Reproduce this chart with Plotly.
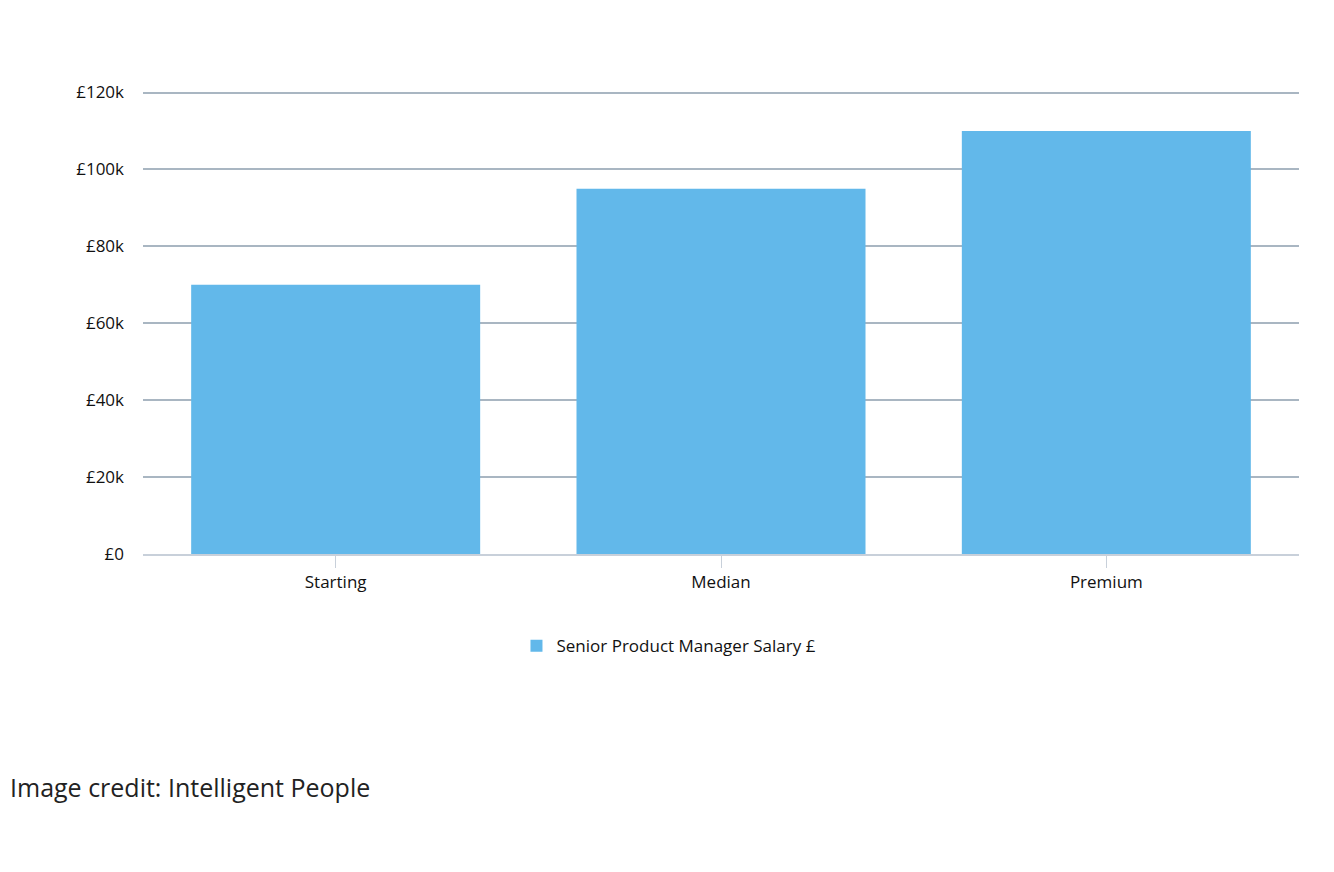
import plotly.graph_objects as go

categories = ["Starting", "Median", "Premium"]
salaries = [70000, 95000, 110000]
tick_vals = [0, 20000, 40000, 60000, 80000, 100000, 120000]
tick_text = ["£0", "£20k", "£40k", "£60k", "£80k", "£100k", "£120k"]

fig = go.Figure()
fig.add_trace(go.Bar(
    x=categories,
    y=salaries,
    name="Senior Product Manager Salary £",
    marker=dict(color="#62b8ea", line=dict(width=0)),
    hoverinfo="x+y",
))

fig.update_layout(
    width=1334,
    height=872,
    paper_bgcolor="white",
    plot_bgcolor="white",
    margin=dict(l=135, r=43, t=83, b=326, autoexpand=False),
    bargap=0.25,
    font=dict(family="Open Sans, sans-serif", size=17, color="#111"),
    showlegend=True,
    legend=dict(
        orientation="h", x=0.455, xanchor="center", y=-0.16, yanchor="top",
        font=dict(size=17),
    ),
    xaxis=dict(
        showgrid=False, showline=True, linecolor="#c8d0da", linewidth=2,
        ticks="outside", tickcolor="#c8d0da", ticklen=12, tickfont=dict(size=17),
    ),
    yaxis=dict(
        range=[0, 120400], tickvals=tick_vals, ticktext=tick_text,
        gridcolor="#a9b6c2", gridwidth=1.5, zeroline=False,
        tickfont=dict(size=17), ticklabelstandoff=18,
    ),
)

fig.add_annotation(
    text="Image credit: Intelligent People", xref="paper", yref="paper",
    x=-135 / 1156, y=-233 / 463, xanchor="left", yanchor="middle",
    showarrow=False, font=dict(family="Open Sans, sans-serif", size=25, color="#222"),
)

fig.write_html("out.html")
